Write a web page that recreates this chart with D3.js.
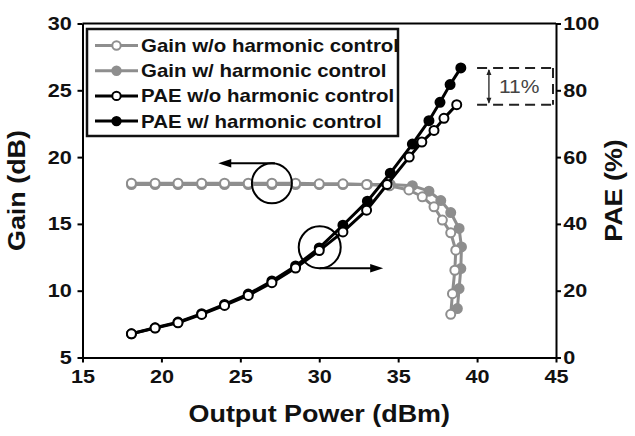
<!DOCTYPE html>
<html>
<head>
<meta charset="utf-8">
<script src="https://cdn.jsdelivr.net/npm/d3@7"></script>
<style>
body{margin:0;background:#fff;}
#canvas{width:635px;height:436px;}
text{font-family:"Liberation Sans",Arial,sans-serif;}
</style>
</head>
<body>
<div id="canvas" class="canvas"></div>
<script>
// data
var xTicks = [15,20,25,30,35,40,45];
var gainTicks = [5,10,15,20,25,30];
var paeTicks = [0,20,40,60,80,100];

var pGainWo = [18.1,19.6,21.05,22.55,24.0,25.5,27.0,28.5,30.0,31.5,33.0,34.45,35.68,36.53,37.27,37.8,38.33,38.65,38.59,38.44,38.33];
var gainWo  = [18.05,18.05,18.05,18.05,18.05,18.05,18.05,18.05,18.0,18.0,17.95,17.85,17.54,17.03,16.28,15.29,14.33,13.03,11.53,9.78,8.23];

var pGainW = [18.1,19.6,21.05,22.55,24.0,25.5,27.0,28.5,30.0,31.5,33.05,34.5,35.9,36.95,37.7,38.33,38.86,39.01,38.97,38.86,38.75];
var gainW  = [17.95,17.95,17.95,17.95,17.95,17.95,17.95,17.95,17.95,17.95,17.95,17.95,17.86,17.45,16.75,15.85,14.66,13.28,11.66,10.16,8.66];

var pPaeWo = [18.1,19.6,21.05,22.55,24.0,25.5,27.0,28.5,30.0,31.5,33.0,34.3,35.7,36.5,37.27,37.9,38.71];
var paeWo  = [7.1,8.8,10.4,12.9,15.6,18.6,22.4,26.8,32.0,37.6,44.1,51.8,60.0,64.5,68.0,71.6,75.7];

var pPaeW = [18.1,19.6,21.05,22.55,24.0,25.5,27.0,28.5,30.0,31.5,33.05,34.5,35.9,36.95,37.65,38.29,38.97];
var paeW  = [7.1,8.9,10.6,13.1,15.9,19.0,22.9,27.4,32.8,39.6,46.8,55.2,63.9,70.9,76.4,81.7,86.7];

var legendLabels = ['Gain w/o harmonic control','Gain w/ harmonic control','PAE w/o harmonic control','PAE w/ harmonic control'];

var gray = '#8e8e8e';
var sx = 1.17; // the figure's lettering is a bit wider than Arial

var m = {t:23.5,r:79,b:78.5,l:82.5};
var outerWidth = 635, outerHeight = 436;
var w = outerWidth - m.l - m.r,
    h = outerHeight - m.t - m.b;

var svg = d3.select('.canvas')
    .append('svg')
    .attr('width',outerWidth)
    .attr('height',outerHeight);
var plot = svg.append('g')
    .attr('transform','translate(' + m.l + ',' + m.t + ')');

var scaleX = d3.scaleLinear().domain([15,45]).range([0,w]);
var scaleG = d3.scaleLinear().domain([5,30]).range([h,0]);
var scaleP = d3.scaleLinear().domain([0,100]).range([h,0]);

// axes
var axisX = d3.axisBottom(scaleX).tickValues(xTicks).tickSize(5).tickSizeOuter(0).tickPadding(7.5);
var axisL = d3.axisLeft(scaleG).tickValues(gainTicks).tickSize(5).tickSizeOuter(0).tickPadding(4.2);
var axisR = d3.axisRight(scaleP).tickValues(paeTicks).tickSize(5).tickSizeOuter(0).tickPadding(1.2);

plot.append('g').attr('class','axis').attr('transform','translate(0,'+h+')').call(axisX);
plot.append('g').attr('class','axis').call(axisL);
plot.append('g').attr('class','axis').attr('transform','translate('+w+',0)').call(axisR);
plot.append('line')
    .attr('x1',0).attr('x2',w).attr('y1',0).attr('y2',0)
    .style('stroke','#000').style('stroke-width',2);

plot.selectAll('.axis path, .axis line').style('stroke','#000').style('stroke-width',2);
plot.selectAll('.axis text')
    .style('font-size','18.5px')
    .style('font-weight','bold')
    .style('fill','#111')
    .attr('transform','scale('+sx+',1)');

// series
function drawSeries(px, py, yScale, color, filled) {
    var pts = px.map(function(d,i){ return [scaleX(d), yScale(py[i])]; });
    var line = d3.line();
    plot.append('path')
        .attr('d', line(pts))
        .style('fill','none')
        .style('stroke',color)
        .style('stroke-width',3)
        .style('stroke-linejoin','round');
    plot.append('g').selectAll('circle')
        .data(pts)
        .enter()
        .append('circle')
        .attr('cx',function(d){return d[0];})
        .attr('cy',function(d){return d[1];})
        .attr('r',4.5)
        .style('fill',filled ? color : '#fff')
        .style('stroke',color)
        .style('stroke-width',2);
}
drawSeries(pGainW, gainW, scaleG, gray, true);
drawSeries(pGainWo, gainWo, scaleG, gray, false);
drawSeries(pPaeW, paeW, scaleP, '#000', true);
drawSeries(pPaeWo, paeWo, scaleP, '#000', false);

// annotations: circles with arrows pointing to the axis each curve uses
function arrowHead(x, y, dir) {
    var l = 13, hw = 4.2;
    plot.append('path')
        .attr('d','M'+x+','+y+' L'+(x-dir*l)+','+(y-hw)+' L'+(x-dir*l)+','+(y+hw)+' Z')
        .style('fill','#000');
}
var c1x = scaleX(27), c1y = scaleG(18.04), r1 = 20;
plot.append('circle').attr('cx',c1x).attr('cy',c1y).attr('r',r1)
    .style('fill','none').style('stroke','#000').style('stroke-width',2);
plot.append('line')
    .attr('x1',c1x+3).attr('y1',c1y-r1).attr('x2',scaleX(23.6)+8).attr('y2',c1y-r1)
    .style('stroke','#000').style('stroke-width',2);
arrowHead(scaleX(23.6), c1y-r1, -1);

var c2x = scaleX(30.03), c2y = scaleP(33), r2 = 21;
plot.append('circle').attr('cx',c2x).attr('cy',c2y).attr('r',r2)
    .style('fill','none').style('stroke','#000').style('stroke-width',2);
plot.append('line')
    .attr('x1',c2x).attr('y1',c2y+r2).attr('x2',scaleX(34.05)-8).attr('y2',c2y+r2)
    .style('stroke','#000').style('stroke-width',2);
arrowHead(scaleX(34.05), c2y+r2, 1);

// 11% gap box
var yTop = scaleP(paeW[paeW.length-1]), yBot = scaleP(paeWo[paeWo.length-1]);
var bx0 = scaleX(40.0), bx1 = w - 3;
[yTop,yBot].forEach(function(y){
    plot.append('line')
        .attr('x1',bx0).attr('x2',bx1).attr('y1',y).attr('y2',y)
        .style('stroke','#222').style('stroke-width',2).style('stroke-dasharray','10,6');
});
plot.append('line')
    .attr('x1',bx1).attr('x2',bx1).attr('y1',yTop).attr('y2',yBot)
    .style('stroke','#222').style('stroke-width',2).style('stroke-dasharray','10,6');
var ax = scaleX(40.75);
plot.append('line')
    .attr('x1',ax).attr('x2',ax).attr('y1',yTop+2).attr('y2',yBot-2)
    .style('stroke','#222').style('stroke-width',1.3);
plot.append('path')
    .attr('d','M'+ax+','+(yTop+1)+' l-2.5,6 l5,0 Z M'+ax+','+(yBot-1)+' l-2.5,-6 l5,0 Z')
    .style('fill','#222');
plot.append('text')
    .attr('transform','translate('+(ax+10)+','+((yTop+yBot)/2+7)+') scale('+sx+',1)')
    .text('11%')
    .style('font-size','18px')
    .style('fill','#444');

// legend
var legend = plot.append('g').attr('transform','translate(4.5,5.5)');
legend.append('rect')
    .attr('width',311).attr('height',107)
    .style('fill','#fff').style('stroke','#111').style('stroke-width',2.5);
var legendStyle = [
    {color:gray, filled:false},
    {color:gray, filled:true},
    {color:'#000', filled:false},
    {color:'#000', filled:true}
];
var items = legend.selectAll('.item')
    .data(legendLabels)
    .enter()
    .append('g')
    .attr('class','item')
    .attr('transform',function(d,i){ return 'translate(0,'+(16.5+i*25.2)+')'; });
items.append('line')
    .attr('x1',8).attr('x2',51).attr('y1',0).attr('y2',0)
    .style('stroke',function(d,i){return legendStyle[i].color;})
    .style('stroke-width',3);
items.append('circle')
    .attr('cx',29.5).attr('cy',0).attr('r',4.2)
    .style('fill',function(d,i){return legendStyle[i].filled ? legendStyle[i].color : '#fff';})
    .style('stroke',function(d,i){return legendStyle[i].color;})
    .style('stroke-width',2);
items.append('text')
    .attr('transform','translate(54,6.5) scale('+sx+',1)')
    .text(function(d){return d;})
    .style('font-size','17.5px')
    .style('font-weight','bold')
    .style('fill','#111');

// axis titles
svg.append('text')
    .attr('transform','translate('+(m.l+w/2)+',421.5) scale('+sx+',1)')
    .attr('text-anchor','middle')
    .text('Output Power (dBm)')
    .style('font-size','23px').style('font-weight','bold').style('fill','#111');
svg.append('text')
    .attr('transform','translate(25,'+(m.t+h/2)+') rotate(-90) scale('+sx+',1)')
    .attr('text-anchor','middle')
    .text('Gain (dB)')
    .style('font-size','23px').style('font-weight','bold').style('fill','#111');
svg.append('text')
    .attr('transform','translate(622,'+(m.t+h/2)+') rotate(-90) scale('+sx+',1)')
    .attr('text-anchor','middle')
    .text('PAE (%)')
    .style('font-size','23px').style('font-weight','bold').style('fill','#111');
</script>
</body>
</html>
